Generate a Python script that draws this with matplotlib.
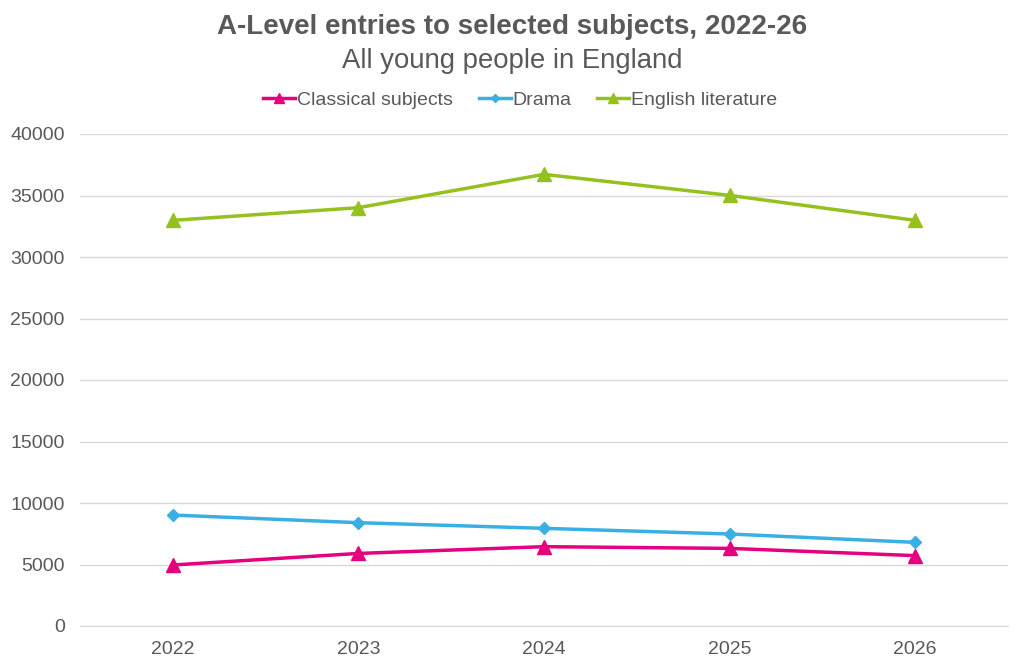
import matplotlib.pyplot as plt

plt.rcParams['font.family'] = ['Liberation Sans', 'DejaVu Sans']

years = ['2022', '2023', '2024', '2025', '2026']
classical = [4960, 5900, 6450, 6310, 5720]
drama = [9020, 8400, 7940, 7480, 6800]
english_lit = [32980, 34010, 36720, 35010, 32980]

text_col = '#595959'

fig = plt.figure(figsize=(10.24, 6.69), dpi=100)
ax = fig.add_axes([80 / 1024, 1 - 626 / 669, 928 / 1024, 492 / 669])

x = range(len(years))
ax.plot(x, classical, color='#E6007E', marker='^', markersize=9.5, linewidth=2.5, label='Classical subjects')
ax.plot(x, drama, color='#3AAFE3', marker='D', markersize=6.5, linewidth=2.5, label='Drama')
ax.plot(x, english_lit, color='#95C11F', marker='^', markersize=9.5, linewidth=2.5, label='English literature')

ax.set_xlim(-0.5, len(years) - 0.5)
ax.set_ylim(0, 40000)
ax.set_yticks(range(0, 40001, 5000))
ax.set_xticks(list(x))
ax.set_xticklabels(years)
ax.tick_params(axis='both', length=0, labelsize=14, labelcolor=text_col)
ax.tick_params(axis='y', pad=11)
ax.tick_params(axis='x', pad=11)
ax.grid(axis='y', color='#d9d9d9', linewidth=1)
ax.set_axisbelow(True)
for s in ['top', 'right', 'left']:
    ax.spines[s].set_visible(False)
ax.spines['bottom'].set_color('#d9d9d9')

fig.text(0.5, 1 - 27 / 669, 'A-Level entries to selected subjects, 2022-26', ha='center', va='center',
         fontsize=20, fontweight='bold', color=text_col)
fig.text(0.5, 1 - 61 / 669, 'All young people in England', ha='center', va='center',
         fontsize=19.8, color=text_col)

fig.legend(loc='center', bbox_to_anchor=(0.508, 1 - 100 / 669), ncol=3, frameon=False,
           fontsize=14, labelcolor=text_col, handlelength=1.65, handletextpad=0.1,
           columnspacing=1.3, markerscale=0.7)

fig.savefig('out.png', dpi=100)
